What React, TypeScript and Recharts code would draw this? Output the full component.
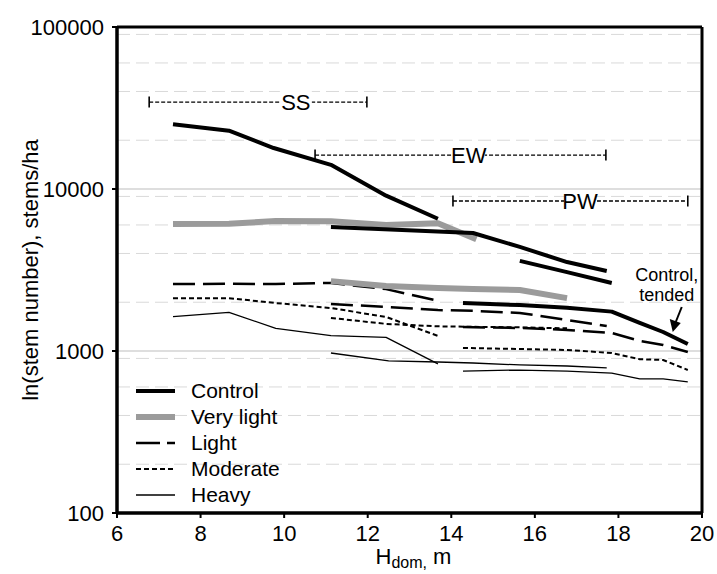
import {
  CartesianGrid,
  Legend,
  Line,
  LineChart,
  ReferenceDot,
  ReferenceLine,
  XAxis,
  YAxis,
} from 'recharts';

const FONT = "'Liberation Sans', Arial, sans-serif";

type Pt = { h: number; n: number };
const pts = (rows: number[][]): Pt[] => rows.map(([h, n]) => ({ h, n }));

const xTicks = [6, 8, 10, 12, 14, 16, 18, 20];
const yTicks = [100, 1000, 10000, 100000];
const majorGrid = [1000, 10000];
const minorGrid = [
  200, 300, 400, 500, 600, 700, 800, 900,
  2000, 3000, 4000, 5000, 6000, 7000, 8000, 9000,
  20000, 30000, 40000, 50000, 60000, 70000, 80000, 90000,
];

// stems/ha against dominant height, one array per thinning x period
const controlSS = pts([[7.34, 25100], [8.68, 22900], [9.75, 17900], [11.12, 14100], [12.44, 9100], [13.68, 6550]]);
const controlEW = pts([[11.12, 5820], [14.52, 5350], [15.64, 4390], [16.77, 3540], [17.72, 3120]]);
const controlPW = pts([[15.64, 3600], [16.77, 3070], [17.84, 2630]]);
const controlTended = pts([[14.28, 1980], [15.64, 1920], [16.77, 1850], [17.84, 1750], [18.51, 1490], [19.07, 1310], [19.66, 1105]]);

const veryLightSS = pts([[7.34, 6080], [8.68, 6100], [9.8, 6340], [11.12, 6330], [12.44, 6000], [13.68, 6150], [14.6, 4900]]);
const veryLightEW = pts([[11.12, 2700], [12.44, 2520], [13.68, 2450], [14.52, 2410], [15.64, 2380], [16.77, 2120]]);

const lightSS = pts([[7.34, 2590], [8.68, 2600], [9.8, 2590], [11.12, 2630], [12.44, 2410], [13.68, 2040]]);
const lightEW = pts([[11.12, 1950], [12.44, 1870], [13.68, 1790], [14.52, 1770], [15.64, 1718], [16.77, 1553], [17.72, 1426]]);
const lightPW = pts([[14.28, 1406], [15.64, 1387], [16.77, 1349], [17.84, 1292], [18.51, 1153], [19.07, 1089], [19.66, 986]]);

const moderateSS = pts([[7.34, 2120], [8.68, 2120], [9.8, 1977], [11.12, 1842], [12.44, 1622], [13.68, 1239]]);
const moderateEW = pts([[11.12, 1600], [12.44, 1470], [13.68, 1420], [14.52, 1410], [15.64, 1400], [16.77, 1380]]);
const moderatePW = pts([[14.28, 1044], [15.64, 1029], [16.77, 1015], [17.84, 972], [18.51, 890], [19.07, 880], [19.66, 763]]);

const heavySS = pts([[7.34, 1629], [8.68, 1733], [9.8, 1380], [11.12, 1245], [12.44, 1214], [13.68, 832]]);
const heavyEW = pts([[11.12, 972], [12.5, 868], [13.68, 855], [14.52, 843], [15.64, 820], [16.77, 808], [17.72, 786]]);
const heavyPW = pts([[14.28, 752], [15.64, 763], [16.77, 752], [17.84, 731], [18.51, 672], [19.07, 672], [19.66, 644]]);

// thinning periods shown as bars across the top
const periods = [
  { name: 'SS', from: 6.77, to: 11.98, level: 34400, labelAt: 10.28 },
  { name: 'EW', from: 10.74, to: 17.7, level: 16200, labelAt: 14.42 },
  { name: 'PW', from: 14.04, to: 19.66, level: 8430, labelAt: 17.08 },
];

const STYLE: Record<string, { stroke: string; strokeWidth: number; strokeDasharray?: string }> = {
  control: { stroke: '#000', strokeWidth: 4 },
  veryLight: { stroke: '#9b9b9b', strokeWidth: 6 },
  light: { stroke: '#000', strokeWidth: 2.5, strokeDasharray: '22 8' },
  moderate: { stroke: '#000', strokeWidth: 2, strokeDasharray: '5 3' },
  heavy: { stroke: '#000', strokeWidth: 1.3 },
};

const series: { id: string; kind: string; data: Pt[] }[] = [
  { id: 'heavySS', kind: 'heavy', data: heavySS },
  { id: 'heavyEW', kind: 'heavy', data: heavyEW },
  { id: 'heavyPW', kind: 'heavy', data: heavyPW },
  { id: 'moderateSS', kind: 'moderate', data: moderateSS },
  { id: 'moderateEW', kind: 'moderate', data: moderateEW },
  { id: 'moderatePW', kind: 'moderate', data: moderatePW },
  { id: 'lightSS', kind: 'light', data: lightSS },
  { id: 'lightEW', kind: 'light', data: lightEW },
  { id: 'lightPW', kind: 'light', data: lightPW },
  { id: 'veryLightSS', kind: 'veryLight', data: veryLightSS },
  { id: 'veryLightEW', kind: 'veryLight', data: veryLightEW },
  { id: 'controlSS', kind: 'control', data: controlSS },
  { id: 'controlEW', kind: 'control', data: controlEW },
  { id: 'controlPW', kind: 'control', data: controlPW },
  { id: 'controlTended', kind: 'control', data: controlTended },
];

const legendItems = [
  { label: 'Control', kind: 'control' },
  { label: 'Very light', kind: 'veryLight' },
  { label: 'Light', kind: 'light' },
  { label: 'Moderate', kind: 'moderate' },
  { label: 'Heavy', kind: 'heavy' },
];

function PeriodCap(p: any) {
  return (
    <line key={`cap-${p.index}`} x1={p.cx} x2={p.cx} y1={p.cy - 5.5} y2={p.cy + 5.5} stroke="#000" strokeWidth={1.6} />
  );
}

function LegendBox() {
  return (
    <div style={{ fontFamily: FONT, fontSize: 21, color: '#000' }}>
      {legendItems.map((it) => {
        const s = STYLE[it.kind];
        return (
          <div key={it.label} style={{ display: 'flex', alignItems: 'center', height: 26 }}>
            <svg width={45} height={26} style={{ display: 'block' }}>
              <line
                x1={6}
                x2={45}
                y1={13}
                y2={13}
                stroke={s.stroke}
                strokeWidth={s.strokeWidth}
                strokeDasharray={it.kind === 'light' ? '24 7' : s.strokeDasharray}
              />
            </svg>
            <span style={{ marginLeft: 16, lineHeight: '26px' }}>{it.label}</span>
          </div>
        );
      })}
    </div>
  );
}

export default function App() {
  return (
    <div style={{ position: 'absolute', left: 0, top: 0, background: '#fff' }}>
      <LineChart width={717} height={574} margin={{ top: 27, right: 15, bottom: 0, left: 0 }}>
        <CartesianGrid vertical={false} horizontalValues={minorGrid} stroke="#d9d9d9" strokeDasharray="13 6" />
        <CartesianGrid vertical={false} horizontalValues={majorGrid} stroke="#bdbdbd" />
        <XAxis
          dataKey="h"
          type="number"
          domain={[6, 20]}
          ticks={xTicks}
          allowDataOverflow
          height={61}
          tickSize={5}
          tickMargin={7}
          stroke="#000"
          axisLine={{ stroke: '#000', strokeWidth: 3 }}
          tickLine={{ stroke: '#000', strokeWidth: 2 }}
          tick={{ fill: '#000', fontSize: 22, fontFamily: FONT }}
          label={({ viewBox }: any) => (
            <text x={viewBox.x + viewBox.width / 2 + 4} y={564} textAnchor="middle" fontSize={22} fontFamily={FONT} fill="#000">
              <tspan>H</tspan>
              <tspan dy={4} fontSize={16}>dom,</tspan>
              <tspan dy={-4}> m</tspan>
            </text>
          )}
        />
        <YAxis
          type="number"
          scale="log"
          domain={[100, 100000]}
          ticks={yTicks}
          allowDataOverflow
          width={117}
          tickSize={5}
          tickMargin={8}
          stroke="#000"
          axisLine={{ stroke: '#000', strokeWidth: 3 }}
          tickLine={{ stroke: '#000', strokeWidth: 2 }}
          tick={{ fill: '#000', fontSize: 22, fontFamily: FONT }}
          label={({ viewBox }: any) => (
            <text
              x={30}
              y={viewBox.y + viewBox.height / 2}
              transform={`rotate(-90 30 ${viewBox.y + viewBox.height / 2})`}
              textAnchor="middle"
              dominantBaseline="central"
              fontSize={22}
              fontFamily={FONT}
              fill="#000"
            >
              ln(stem number), stems/ha
            </text>
          )}
        />
        {/* frame around the plot area */}
        <ReferenceLine x={6} stroke="#000" strokeWidth={3} />
        <ReferenceLine x={20} stroke="#000" strokeWidth={3} />
        <ReferenceLine y={100} stroke="#000" strokeWidth={3} />
        <ReferenceLine y={100000} stroke="#000" strokeWidth={3} />

        {periods.map((p) => (
          <Line
            key={p.name}
            data={[{ h: p.from, n: p.level }, { h: p.to, n: p.level }]}
            dataKey="n"
            stroke="#000"
            strokeWidth={1.3}
            strokeDasharray="4 2"
            dot={PeriodCap}
            activeDot={false}
            legendType="none"
            isAnimationActive={false}
          />
        ))}
        {periods.map((p) => (
          <ReferenceDot
            key={`lbl-${p.name}`}
            x={p.labelAt}
            y={p.level}
            shape={(s: any) => (
              <g>
                <rect x={s.cx - 16} y={s.cy - 11} width={32} height={22} fill="#fff" />
                <text x={s.cx} y={s.cy} textAnchor="middle" dominantBaseline="central" fontSize={22} fontFamily={FONT} fill="#000">
                  {p.name}
                </text>
              </g>
            )}
          />
        ))}

        {series.map((s) => (
          <Line
            key={s.id}
            data={s.data}
            dataKey="n"
            type="linear"
            {...STYLE[s.kind]}
            strokeLinejoin="round"
            dot={false}
            activeDot={false}
            isAnimationActive={false}
          />
        ))}

        <ReferenceDot
          x={19.3}
          y={1310}
          shape={(s: any) => (
            <g fontFamily={FONT} fontSize={18} fill="#000">
              <text x={s.cx - 6} y={s.cy - 57} textAnchor="middle" dominantBaseline="central">Control,</text>
              <text x={s.cx - 6} y={s.cy - 37} textAnchor="middle" dominantBaseline="central">tended</text>
              <line x1={s.cx + 9} y1={s.cy - 25} x2={s.cx + 3} y2={s.cy - 10} stroke="#000" strokeWidth={2} />
              <path d={`M ${s.cx} ${s.cy} L ${s.cx - 3} ${s.cy - 13} L ${s.cx + 8} ${s.cy - 9} Z`} fill="#000" />
            </g>
          )}
        />

        <Legend
          layout="horizontal"
          verticalAlign="middle"
          align="center"
          wrapperStyle={{ left: 130, top: 378, width: 200 }}
          content={() => <LegendBox />}
        />
      </LineChart>
    </div>
  );
}
